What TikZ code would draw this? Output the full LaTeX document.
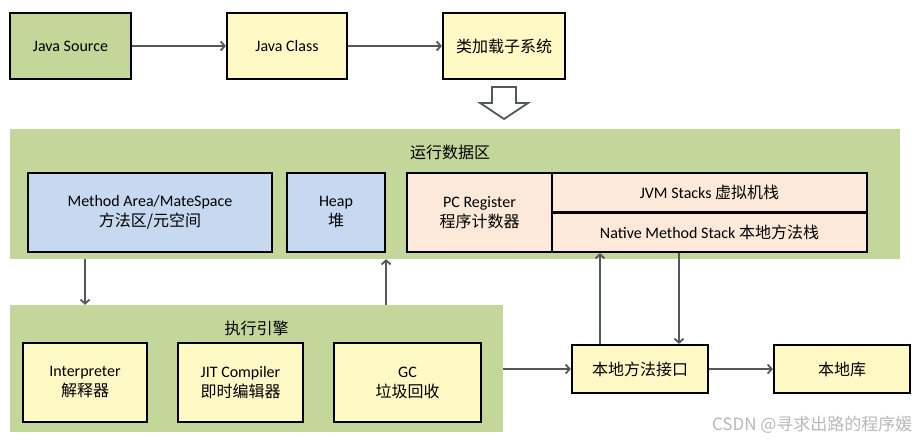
\documentclass[tikz,border=0pt]{standalone}
\usepackage{fontspec}
\usetikzlibrary{arrows.meta}
\setmainfont{Carlito}
\newfontfamily\cjk{Noto Sans CJK SC}
\newcommand{\zh}[1]{{\cjk\fontsize{16}{20}\selectfont #1}}
\definecolor{panelgreen}{HTML}{C4D79B}
\definecolor{boxyellow}{HTML}{FFF9C6}
\definecolor{boxblue}{HTML}{C6D9F1}
\definecolor{boxpeach}{HTML}{FDE9DA}
\definecolor{linegray}{HTML}{53585A}
\begin{document}
\begin{tikzpicture}[x=1pt,y=-1pt,
  font=\fontsize{16}{20}\selectfont,
  box/.style={shape=rectangle,draw,line width=2.2pt,align=center,inner sep=0pt},
  panel/.style={shape=rectangle,fill=panelgreen,inner sep=0pt},
  conn/.style={-{Straight Barb[length=4pt,width=9pt]},line width=1.8pt,draw=linegray}]
\useasboundingbox (0,0) rectangle (920,439);
\node(jsource) [box,fill=panelgreen,minimum width=121pt,minimum height=66pt] at (70.5,46) {Java Source};
\node(jclass) [box,fill=boxyellow,minimum width=120pt,minimum height=66pt] at (287,46) {Java Class};
\node(loader) [box,fill=boxyellow,minimum width=122pt,minimum height=66pt] at (504,46) {\zh{类加载子系统}};
\draw [conn] (jsource) -- (jclass);
\draw [conn] (jclass) -- (loader);
\draw [draw=linegray,line width=1.8pt,fill=white,line join=miter]
  (492,87) -- (516,87) -- (516,103) -- (528,103) -- (504,119) -- (480,103) -- (492,103) -- cycle;
% runtime data area
\node(dataarea) [panel,minimum width=890pt,minimum height=130pt] at (455,194) {};
\node(datatitle) at (450,152) {\zh{运行数据区}};
\node(method) [box,fill=boxblue,minimum width=244pt,minimum height=79pt] at (150,212.5) {Method Area/MateSpace\\\zh{方法区/元空间}};
\node(heap) [box,fill=boxblue,minimum width=98pt,minimum height=79pt] at (336,212.5) {Heap\\\zh{堆}};
\node(pc) [box,fill=boxpeach,minimum width=145pt,minimum height=79pt] at (479.5,212.5) {PC Register\\\zh{程序计数器}};
\node(jvmstack) [box,fill=boxpeach,minimum width=315pt,minimum height=39.5pt] at (709.5,192.75) {JVM Stacks \zh{虚拟机栈}};
\node(nativestack) [box,fill=boxpeach,minimum width=315pt,minimum height=39.5pt] at (709.5,232.25) {Native Method Stack \zh{本地方法栈}};
% execution engine
\node(engine) [panel,minimum width=493pt,minimum height=127pt] at (256.5,368.5) {};
\node(enginetitle) at (256.5,328) {\zh{执行引擎}};
\node(interp) [box,fill=boxyellow,minimum width=124pt,minimum height=79pt] at (85,382.5) {Interpreter\\\zh{解释器}};
\node(jit) [box,fill=boxyellow,minimum width=125pt,minimum height=79pt] at (240.5,382.5) {JIT Compiler\\\zh{即时编辑器}};
\node(gc) [box,fill=boxyellow,minimum width=147pt,minimum height=79pt] at (407.5,382.5) {GC\\\zh{垃圾回收}};
\node(jni) [box,fill=boxyellow,minimum width=136pt,minimum height=48pt] at (640,369) {\zh{本地方法接口}};
\node(nlib) [box,fill=boxyellow,minimum width=136pt,minimum height=48pt] at (842,369) {\zh{本地库}};
\draw [conn] (dataarea.south -| interp.north) -- (engine.north -| interp.north);
\draw [conn] (engine.north -| heap.south east) -- (dataarea.south -| heap.south east);
\draw [conn] (engine.east |- jni.west) -- (jni.west);
\draw [conn] (jni) -- (nlib);
\draw [conn] ([xshift=-40pt]jni.north) -- ([xshift=-40pt]jni.north |- nativestack.south);
\draw [conn] ([xshift=39pt]jni.north |- nativestack.south) -- ([xshift=39pt]jni.north);
\node(mark) [anchor=east,text=black!28,font=\cjk\fontsize{17}{19}\selectfont] at (916,425) {CSDN @寻求出路的程序媛};
\end{tikzpicture}
\end{document}
